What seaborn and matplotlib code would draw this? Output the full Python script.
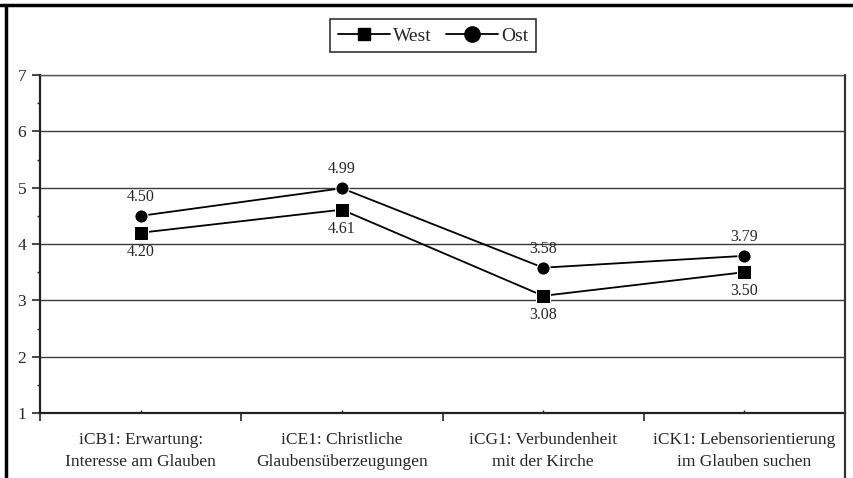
import seaborn as sns
import matplotlib.pyplot as plt
import pandas as pd
from matplotlib.lines import Line2D

categories = ["iCB1: Erwartung:\nInteresse am Glauben",
              "iCE1: Christliche\nGlaubensüberzeugungen",
              "iCG1: Verbundenheit\nmit der Kirche",
              "iCK1: Lebensorientierung\nim Glauben suchen"]
west = [4.20, 4.61, 3.08, 3.50]
ost = [4.50, 4.99, 3.58, 3.79]
groups = ["West", "Ost"]

sns.set_theme(style="white")
plt.rcParams['font.family'] = ['Liberation Serif', 'DejaVu Serif']

rows = []
for i, cat in enumerate(categories):
    rows.append({"pos": i, "Gruppe": "West", "Wert": west[i]})
    rows.append({"pos": i, "Gruppe": "Ost", "Wert": ost[i]})
df = pd.DataFrame(rows)

fig = plt.figure(figsize=(8.54, 4.78), dpi=100)
ax = fig.add_axes([0.0468, 0.136, 0.9427, 0.707])

sns.lineplot(data=df, x="pos", y="Wert", style="Gruppe", style_order=groups,
             markers={"West": "s", "Ost": "o"}, dashes=False, color="black",
             linewidth=1.3, markersize=9.5, ax=ax, legend=False)

# Werte: Ost oben, West unten
for i in range(len(categories)):
    ax.annotate(f"{ost[i]:.2f}", (i, ost[i]), xytext=(0, 8), textcoords="offset points",
                ha="center", va="bottom", fontsize=11.5)
    ax.annotate(f"{west[i]:.2f}", (i, west[i]), xytext=(0, -8), textcoords="offset points",
                ha="center", va="top", fontsize=11.5)

ax.set_xlim(-0.5, 3.5)
ax.set_ylim(1, 7)
ax.set_xticks([-0.5, 0.5, 1.5, 2.5, 3.5])
ax.set_xticklabels([])
ax.set_xticks(range(len(categories)), minor=True)
ax.set_xticklabels(categories, minor=True, fontsize=12.5, linespacing=1.45)
ax.tick_params(axis="x", which="major", direction="out", length=6, width=1.2, bottom=True)
ax.tick_params(axis="x", which="minor", direction="in", length=2, width=1, bottom=True, pad=14)
ax.set_yticks(range(1, 8))
ax.set_yticks([1.5, 2.5, 3.5, 4.5, 5.5, 6.5], minor=True)
ax.tick_params(axis="y", which="major", direction="out", length=6, width=1.2, left=True,
               labelsize=12.5, pad=4)
ax.tick_params(axis="y", which="minor", direction="out", length=2, width=1, left=True)
ax.set_xlabel("")
ax.set_ylabel("")

ax.grid(True, axis="y", which="major", color="#3a3a3a", linewidth=1)
for s in ["left", "bottom"]:
    ax.spines[s].set_color("#222222")
    ax.spines[s].set_linewidth(1.6)
ax.spines["right"].set_visible(False)
ax.spines["top"].set_color("#555555")
ax.spines["top"].set_linewidth(1)

handles = [Line2D([], [], color="black", marker="s", markersize=8, linewidth=1.3),
           Line2D([], [], color="black", marker="o", markersize=11, linewidth=1.3)]
leg = fig.legend(handles, groups, loc="center", bbox_to_anchor=(0.507, 0.925),
                 ncol=2, frameon=True, fancybox=False, fontsize=14,
                 handlelength=2.7, columnspacing=0.7, handletextpad=0.15,
                 borderpad=0.4, borderaxespad=0, edgecolor="black")
leg.get_frame().set_linewidth(1.2)

# Rahmenlinien
fig.add_artist(Line2D([0, 1], [0.990, 0.990], transform=fig.transFigure, color="black", linewidth=2.5))
fig.add_artist(Line2D([0.007, 0.007], [0, 0.990], transform=fig.transFigure, color="black", linewidth=2.5))
fig.add_artist(Line2D([0.9895, 0.9895], [0, 0.843], transform=fig.transFigure, color="#333333", linewidth=1.6))

fig.savefig("out.png", dpi=100)
